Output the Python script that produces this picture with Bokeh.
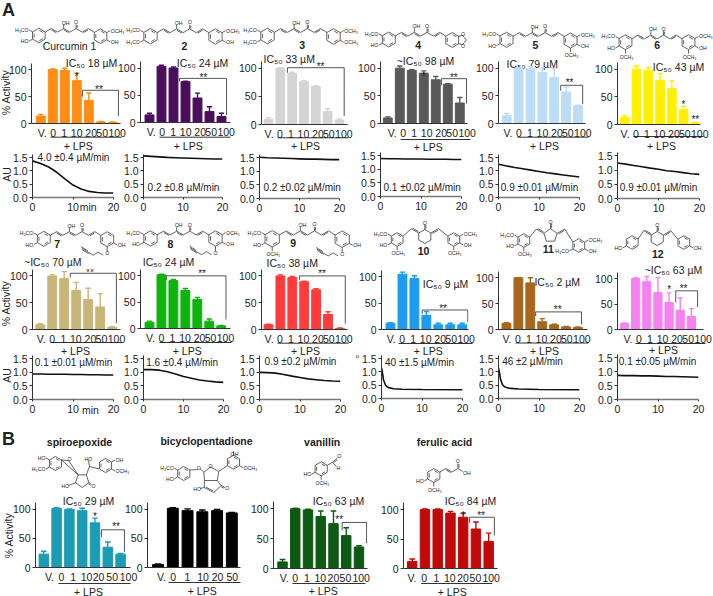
import math
from bokeh.plotting import figure
from bokeh.models import Range1d, FixedTicker, ColumnDataSource
from bokeh.embed import file_html
from bokeh.resources import INLINE
from bokeh.core.properties import value

FONT = "Liberation Sans"
INK = "#222222"
LABELS7 = ["V.", "0", "1", "10", "20", "50", "100"]
LABELS6 = ["V.", "0", "1", "10", "20", "50"]

# ---------- % activity values ----------
curcumin_val = [14, 101, 99, 80, 43, 3, 2];        curcumin_err = [3, 1, 4, 14, 14, 1, 1]
c2_val = [14, 103, 100, 75, 45, 20, 11];           c2_err = [3, 2, 2, 1, 9, 9, 6]
c3_val = [9, 100, 91, 76, 68, 23, 8];              c3_err = [3, 1, 2, 2, 1, 5, 2]
c4_val = [10, 100, 96, 91, 79, 71, 37];            c4_err = [2, 4, 1, 4, 6, 1, 10]
c5_val = [14, 100, 99, 92, 83, 57, 32];            c5_err = [4, 1, 4, 9, 16, 9, 1]
c6_val = [13, 100, 98, 80, 65, 27, 3];             c6_err = [3, 6, 5, 12, 14, 6, 1]
c7_val = [9, 100, 95, 73, 56, 42, 4];              c7_err = [2, 2, 13, 15, 21, 25, 1]
c8_val = [12, 102, 91, 72, 55, 14, 5];             c8_err = [2, 1, 2, 4, 4, 4, 1]
c9_val = [9, 100, 97, 89, 74, 28, 2];              c9_err = [1, 2, 2, 1, 2, 5, 1]
c10_val = [12, 105, 97, 27, 9, 9, 9];              c10_err = [1, 4, 5, 7, 3, 3, 3]
c11_val = [12, 100, 90, 15, 9, 5, 4];              c11_err = [1, 0, 10, 6, 1, 1, 1]
c12_val = [12, 100, 94, 73, 53, 38, 26];           c12_err = [1, 2, 10, 29, 19, 24, 15]
spiro_val = [23, 102, 100, 98, 77, 35, 23];        spiro_err = [5, 1, 1, 4, 8, 9, 1]
bicyclo_val = [5, 102, 98, 96, 98, 94];            bicyclo_err = [1, 1, 3, 3, 2, 1]
vanillin_val = [11, 100, 98, 87, 75, 55, 36];      vanillin_err = [4, 1, 1, 9, 21, 13, 2]
ferulic_val = [12, 100, 100, 94, 87, 67, 46];      ferulic_err = [4, 1, 1, 3, 7, 12, 14]

# ---------- absorbance traces ----------
t_min = [0, 2, 4, 6, 8, 10, 12, 14, 16, 18, 20]
t_fast = [0, 0.2, 0.5, 1, 1.5, 2, 3, 5, 10, 20]
au1 = [1.38, 1.28, 1.15, 0.95, 0.70, 0.47, 0.32, 0.23, 0.19, 0.17, 0.17]
au2 = [1.57, 1.55, 1.53, 1.51, 1.50, 1.49, 1.48, 1.47, 1.46, 1.45, 1.45]
au3 = [1.52, 1.50, 1.49, 1.48, 1.47, 1.46, 1.45, 1.45, 1.44, 1.43, 1.43]
au4 = [1.40, 1.39, 1.39, 1.38, 1.38, 1.38, 1.37, 1.37, 1.37, 1.36, 1.36]
au5 = [1.25, 1.19, 1.13, 1.08, 1.03, 0.98, 0.93, 0.89, 0.85, 0.81, 0.77]
au6 = [1.25, 1.21, 1.16, 1.12, 1.07, 1.03, 0.98, 0.95, 0.91, 0.87, 0.85]
au7 = [0.94, 0.94, 0.93, 0.93, 0.93, 0.92, 0.92, 0.91, 0.91, 0.90, 0.90]
au8 = [1.10, 1.10, 1.08, 1.02, 0.94, 0.85, 0.78, 0.72, 0.68, 0.65, 0.63]
au9 = [1.00, 0.99, 0.97, 0.92, 0.86, 0.81, 0.76, 0.73, 0.70, 0.68, 0.67]
au10 = [1.15, 1.00, 0.70, 0.50, 0.43, 0.40, 0.37, 0.35, 0.34, 0.33]
au11 = [1.15, 1.00, 0.72, 0.52, 0.44, 0.41, 0.38, 0.36, 0.34, 0.33]
au12 = [0.87, 0.86, 0.86, 0.85, 0.85, 0.84, 0.83, 0.83, 0.82, 0.81, 0.80]

W, H = 713, 596
BL, BR, BT, BB = 32, 10, 3, 22

def place(fig, left, top):
    fig.styles = {"position": "absolute", "left": f"{left:.1f}px", "top": f"{top:.1f}px"}

def base_fig(x0, x1, ytop, y0, xr, yr):
    wf, hf = round(x1 - x0), round(y0 - ytop)
    f = figure(width=BL + wf + BR, height=BT + hf + BB, x_range=Range1d(*xr), y_range=Range1d(*yr),
               toolbar_location=None, output_backend="svg",
               min_border_left=BL, min_border_right=BR, min_border_top=BT, min_border_bottom=BB,
               background_fill_color=None, border_fill_color=None, outline_line_color=None)
    f.grid.visible = False
    for ax in (f.xaxis[0], f.yaxis[0]):
        ax.major_label_text_font = FONT
        ax.major_label_text_font_size = "10.5px"
        ax.major_label_text_color = INK
        ax.axis_line_color = "#333333"
        ax.major_tick_line_color = "#333333"
        ax.minor_tick_line_color = None
        ax.major_tick_in = 0
    f.yaxis[0].major_tick_out = 3
    f.yaxis[0].major_label_standoff = 2
    place(f, x0 - BL, ytop - BT)
    return f

def bar_panel(vals, errs, labels, color, x0, x1, y100, y0, xb0, dx, label_px, bracket=None, stars=()):
    ppu = (y0 - y100) / 100
    top = 112
    f = base_fig(x0, x1, y0 - top * ppu, y0,
                 ((x0 - xb0) / dx, (x1 - xb0) / dx), (0, top))
    xs = list(range(len(vals)))
    f.vbar(x=xs, top=vals, width=0.74, color=color)
    hi = [v + e for v, e in zip(vals, errs)]
    f.segment(x0=xs, y0=vals, x1=xs, y1=hi, line_color=color, line_width=1.4)
    f.segment(x0=[x - 0.22 for x in xs], y0=hi, x1=[x + 0.22 for x in xs], y1=hi, line_color=color, line_width=1.4)
    tick_pos = [(px - xb0) / dx for px in label_px]
    f.xaxis[0].ticker = FixedTicker(ticks=tick_pos)
    f.xaxis[0].major_label_overrides = {t: l for t, l in zip(tick_pos, labels)}
    f.xaxis[0].major_tick_out = 0
    f.xaxis[0].major_label_standoff = 3
    f.yaxis[0].ticker = FixedTicker(ticks=[0, 50, 100])
    if bracket:
        xl, xr, yt, yl, yr = bracket
        f.line([xl, xl, xr, xr], [yl, yt, yt, yr], line_color="#555555", line_width=1)
    if stars:
        f.text(x=[s[0] for s in stars], y=[s[1] for s in stars], text=[s[2] for s in stars],
               text_font=value(FONT), text_font_size="10px", text_color=INK,
               text_align="center", text_baseline="middle", y_offset=2)
    return f

def line_panel(t, au, x0, x20, y15, y0):
    ppu = (y0 - y15) / 1.5
    top = 1.62
    f = base_fig(x0, x20, y0 - top * ppu, y0, (0, 20), (0, top))
    f.line(t, au, line_color="#111111", line_width=1.6)
    f.xaxis[0].ticker = FixedTicker(ticks=[0, 10, 20])
    f.xaxis[0].major_tick_out = 2
    f.xaxis[0].major_label_standoff = 3
    f.xaxis[0].axis_line_color = "#777777"
    f.xaxis[0].axis_line_width = 1.5
    f.yaxis[0].ticker = FixedTicker(ticks=[0, 0.5, 1, 1.5])
    f.yaxis[0].major_label_overrides = {0: "0.0", 0.5: "0.5", 1: "1.0", 1.5: "1.5"}
    return f

def off(base, offs):
    return [base + o for o in offs]

PAT = [0, 11, 22, 34.5, 49, 60, 75]
panels = [
    bar_panel(curcumin_val, curcumin_err, LABELS7, "#FF8C14", 31, 120, 69, 122.7, 40.3, 12, off(41.7, PAT),
              (3.47, 6.47, 62, 50, 14), [(4.85, 68, "**"), (3, 92, "*")]),
    bar_panel(c2_val, c2_err, LABELS7, "#4A0E5C", 140, 230, 68, 122.7, 149, 12, off(150.7, PAT),
              (2.5, 6.42, 81, 75, 14), [(4.5, 87, "**")]),
    bar_panel(c3_val, c3_err, LABELS7, "#D4D4D4", 260.7, 347, 67.3, 123.3, 267.7, 11.87, off(268.3, PAT),
              (1.6, 6.4, 101, 92, 15), [(4.4, 106, "**")]),
    bar_panel(c4_val, c4_err, LABELS7, "#595959", 380, 467, 67.7, 123.3, 387.3, 12, off(391.7, PAT),
              (4.47, 6.56, 81, 69, 36), [(5.5, 87, "**"), (3, 88, "*")]),
    bar_panel(c5_val, c5_err, LABELS7, "#BDDCF6", 497.7, 585, 67.3, 122.7, 506, 11.9, off(507.3, PAT),
              (4.55, 6.4, 69, 59, 35), [(5.3, 77, "**")]),
    bar_panel(c6_val, c6_err, LABELS7, "#FFF000", 616.7, 700, 68.3, 123.3, 624, 11.8, off(624.3, PAT),
              None, [(5, 39, "*"), (6, 12, "**")]),
    bar_panel(c7_val, c7_err, LABELS7, "#C8B578", 32.3, 120, 275, 328.3, 40, 11.95, off(41, PAT),
              (2.5, 6.35, 105, 97, 12), [(4.15, 110, "**")]),
    bar_panel(c8_val, c8_err, LABELS7, "#0CB40C", 140, 230, 275.7, 328.3, 149, 11.95, off(150, PAT),
              (1.4, 6.4, 100, 92, 17), [(4.4, 109, "**")]),
    bar_panel(c9_val, c9_err, LABELS7, "#FF3B3B", 260.7, 347, 275.7, 329, 267.7, 11.95, off(268.3, PAT),
              (2.6, 6.45, 100, 92, 11), [(4.5, 109, "**")]),
    bar_panel(c10_val, c10_err, LABELS7, "#1E9BF0", 381, 468, 276.7, 329, 390, 11.95, off(390.7, PAT),
              (2.65, 6.47, 37, 30, 14), [(4.4, 44, "**")]),
    bar_panel(c11_val, c11_err, LABELS7, "#A8651E", 497.7, 587, 276.7, 328.7, 505.7, 11.95, off(506.3, PAT),
              (2.45, 6.3, 34, 26, 10), [(4.3, 42, "**")]),
    bar_panel(c12_val, c12_err, LABELS7, "#F582F0", 617.3, 703, 277.7, 329, 624.3, 11.1, off(627.7, PAT),
              (4.6, 6.56, 76, 53, 44), [(5.3, 84, "**"), (4, 83, "*")]),
    bar_panel(spiro_val, spiro_err, LABELS7, "#1A9CB4", 35, 130, 509, 567.3, 43.3, 12.8,
              off(49, [0, 12, 23.7, 37, 49, 62.7, 79]),
              (4.5, 6.3, 65, 52, 27), [(5.65, 74, "**"), (4, 91, "*")]),
    bar_panel(bicyclo_val, bicyclo_err, LABELS6, "#000000", 146.7, 240, 509, 566.7, 157.3, 14.8,
              off(160.7, [0, 11.7, 26, 41.7, 56.3, 71])),
    bar_panel(vanillin_val, vanillin_err, LABELS7, "#0E5A14", 273.3, 367, 508.3, 568.3, 282.3, 12.7,
              off(284, [0, 11, 22.7, 36, 49, 61, 76.7]),
              (4.68, 6.6, 77, 64, 42), [(4.45, 85, "**")]),
    bar_panel(ferulic_val, ferulic_err, LABELS7, "#C00A0A", 403.3, 497, 509, 567.7, 412, 12.7,
              off(411.7, [0, 12.3, 24.3, 37.7, 51, 63.3, 79]),
              (4.5, 6.45, 87, 78, 56), [(5.4, 93, "**"), (4, 93, "*")]),
    line_panel(t_min, au1, 31.7, 112.7, 156.7, 196.7),
    line_panel(t_min, au2, 142.7, 221.7, 156.7, 196.7),
    line_panel(t_min, au3, 259.3, 339.3, 156.7, 197.3),
    line_panel(t_min, au4, 380, 461, 155.7, 196.7),
    line_panel(t_min, au5, 497.7, 579, 156.7, 196.7),
    line_panel(t_min, au6, 616.7, 698.3, 155, 197.3),
    line_panel(t_min, au7, 32.3, 113.3, 357.7, 398.3),
    line_panel(t_min, au8, 142.7, 222.7, 357.7, 398.3),
    line_panel(t_min, au9, 259.3, 340, 357.7, 398.3),
    line_panel(t_fast, au10, 381, 461.7, 357.7, 397.3),
    line_panel(t_fast, au11, 497.7, 578.3, 357.7, 397.3),
    line_panel(t_min, au12, 617.3, 698.3, 357.7, 399),
]

# ---------- page layer: text, underlines, structures ----------
bg = figure(width=W, height=H, x_range=Range1d(0, W), y_range=Range1d(H, 0),
            toolbar_location=None, output_backend="svg",
            min_border_left=0, min_border_right=0, min_border_top=0, min_border_bottom=0,
            background_fill_color=None, border_fill_color=None, outline_line_color=None)
bg.xaxis.visible = False
bg.yaxis.visible = False
bg.grid.visible = False
place(bg, 0, 0)

T = {k: [] for k in ("x", "y", "t", "s", "st", "a", "al")}
def txt(x, y, t, s=10.5, st="normal", a=0.0, al="center"):
    for k, v in zip(("x", "y", "t", "s", "st", "a", "al"), (x, y, t, f"{s}px", st, a, al)):
        T[k].append(v)

SUB = "\u2085\u2080"
for x, y, t in [(91, 62.7, "IC50 18 µM"), (202, 62.7, "IC50 24 µM"), (288.7, 58.7, "IC50 33 µM"),
                (425, 60, "~IC50 98 µM"), (531.7, 63, "IC50 79 µM"), (678, 66.7, "IC50 43 µM"),
                (52.3, 261.7, "~IC50 70 µM"), (168, 261.7, "IC50 24 µM"), (291.7, 262, "IC50 38 µM"),
                (445, 283, "IC50 9 µM"), (556.7, 281, "IC50 2 µM"), (673, 269.3, "~IC50 63 µM"),
                (88, 500.7, "IC50 29 µM"), (338, 500.7, "IC50 63 µM"), (470, 500.7, "IC50 84 µM")]:
    txt(x, y, t.replace("IC50", "IC" + SUB))
for x, y, t in [(73, 156.7, "4.0 ±0.4 µM/min"), (183, 187, "0.2 ±0.8 µM/min"), (303, 187, "0.2  ±0.02 µM/min"),
                (421.7, 187, "0.1 ±0.02 µM/min"), (539, 187, "0.9 ±0.01 µM/min"), (658, 187, "0.9 ±0.01 µM/min"),
                (73, 362, "0.1 ±0.01 µM/min"), (181.7, 362.3, "1.6 ±0.4 µM/min"), (300, 361, "0.9 ±0.2 µM/min"),
                (419, 361.7, "40 ±1.5 µM/min"), (532, 361.3, "46 ±2 µM/min"), (657, 361, "0.1 ±0.05 µM/min")]:
    txt(x, y, t, s=10)
under = [(50, 121, 136.7, 77.7, 145.7), (159, 230, 136.7, 187.7, 145.7), (277, 348, 137.3, 305, 145.7),
         (400, 470, 139, 427.7, 146), (517, 588, 136.7, 544, 145.3), (633, 703, 136, 661, 145.7),
         (50, 121, 342, 75, 350), (159, 231, 342, 186.7, 350), (277, 348, 342.7, 305, 350.7),
         (398, 472, 343, 427.7, 350), (515, 588, 342.5, 544, 350), (635, 705, 343, 663, 349.3),
         (58, 130, 583, 88, 591), (168, 240, 582, 201.7, 590), (292, 365, 583, 322.7, 590.7),
         (420.7, 491.7, 583, 451.7, 591)]
bg.segment(x0=[u[0] for u in under], y0=[u[2] for u in under], x1=[u[1] for u in under], y1=[u[2] for u in under],
           line_color="#333333", line_width=1)
for u in under:
    txt(u[3], u[4], "+ LPS")
for x, y in [(5, 92), (5, 303), (8, 535)]:
    txt(x, y, "% Activity", a=math.pi / 2)
for x, y in [(6, 174), (6, 375)]:
    txt(x, y, "AU", a=math.pi / 2)
txt(87.7, 206.7, "min"); txt(90, 409, "min"); txt(357, 355, "o", s=6)
txt(8, 9, "A", s=18, st="bold"); txt(8, 438, "B", s=18, st="bold")
for x, y, t in [(79, 441.7, "spiroepoxide"), (206, 440, "bicyclopentadione"), (321.7, 441.5, "vanillin"), (444, 441, "ferulic acid")]:
    txt(x, y, t, st="bold")
txt(69, 45.7, "Curcumin 1")
for x, y, t in [(184, 45, "2"), (301.7, 44.7, "3"), (417.7, 44, "4"), (535, 44.7, "5"), (656.7, 44.5, "6"),
                (56.7, 243, "7"), (170, 243, "8"), (292.7, 242, "9"), (423, 250.7, "10"), (547.7, 248, "11"), (657.3, 253, "12")]:
    txt(x, y, t, st="bold")

# structure drawing helpers
BX, BY = [], []
def bond(a, b):
    BX.append([a[0], b[0]]); BY.append([a[1], b[1]])
def dbl(a, b, o=1.1):
    bond(a, b)
    dx, dy = b[0] - a[0], b[1] - a[1]
    n = math.hypot(dx, dy) or 1
    nx, ny = -dy / n * o, dx / n * o
    bond((a[0] + nx + dx * .12, a[1] + ny + dy * .12), (b[0] + nx - dx * .12, b[1] + ny - dy * .12))
def slab(x, y, t, al="center"):
    txt(x, y, t, s=5.2, al=al)
H3CO, OCH3 = "H\u2083CO", "OCH\u2083"
def hexv(c, r=7.3):
    return [(c[0] + r * math.sin(i * math.pi / 3), c[1] - r * math.cos(i * math.pi / 3)) for i in range(6)]
def ring(c, r=7.3, subs=None, arom=True):
    v = hexv(c, r)
    for i in range(6):
        a, b = v[i], v[(i + 1) % 6]
        bond(a, b)
        if arom and i % 2 == 0:
            f = 0.75
            bond((c[0] + (a[0] - c[0]) * f + (b[0] - a[0]) * .1, c[1] + (a[1] - c[1]) * f + (b[1] - a[1]) * .1),
                 (c[0] + (b[0] - c[0]) * f - (b[0] - a[0]) * .1, c[1] + (b[1] - c[1]) * f - (b[1] - a[1]) * .1))
    for i, t in (subs or {}).items():
        ux, uy = (v[i][0] - c[0]) / r, (v[i][1] - c[1]) / r
        e = (v[i][0] + ux * 4, v[i][1] + uy * 4)
        bond(v[i], e)
        if i in (4, 5):
            slab(e[0] - .5, e[1], t, "right")
        elif i in (1, 2):
            slab(e[0] + .5, e[1], t, "left")
        else:
            slab(e[0] + 1, e[1] + 3, t)
    return v
def alkyne(v):
    o = (v[0], v[1] + 5)
    bond(v, o); slab(o[0], o[1] + 1.5, "O")
    pts = [(-4, 2), (-9, -1), (-14, 2), (-19, -1), (-25.5, -5)]
    pts = [(o[0] + p[0], o[1] + 1.5 + p[1]) for p in pts]
    for a, b in zip(pts, pts[1:]):
        bond(a, b)
    bond((pts[3][0] - .5, pts[3][1] - 1.5), (pts[4][0] - .5, pts[4][1] - 1.5))
    bond((pts[3][0] + .5, pts[3][1] + 1.5), (pts[4][0] + .5, pts[4][1] + 1.5))
def curc(L, R, ls, rs, tail=False):
    s = (R[0] - L[0]) / 62
    mx, my = (L[0] + R[0]) / 2 - s, L[1] - 7 * s
    F = lambda p: (mx + s * p[0], my + s * p[1])
    n = [F(p) for p in [(-23.7, 3.6), (-17.5, 0), (-11.3, 3.6), (-5, 0), (1.2, 3.6), (7.4, 0), (13.6, 3.6), (19.8, 0), (25.7, 3.6)]]
    for i in range(8):
        (dbl if i in (1, 3, 6) else bond)(n[i], n[i + 1])
    bond(n[3], (n[3][0], n[3][1] - 4)); slab(n[3][0] + 2, n[3][1] - 6, "OH")
    dbl(n[5], (n[5][0], n[5][1] - 4)); slab(n[5][0], n[5][1] - 6.5, "O")
    ring(F((-30, 7)), 7.3 * s, ls)
    v = ring((F((32, 7))[0], R[1]), 7.3 * s, rs)
    if tail:
        alkyne(v[3])

curc((38.3, 35), (100, 35.7), {5: H3CO, 4: "HO"}, {1: OCH3, 2: "OH"})
curc((150, 35.7), (215, 36), {5: H3CO, 4: H3CO}, {1: OCH3, 2: "OH"})
curc((267, 35.5), (333, 36), {5: H3CO, 4: H3CO}, {1: OCH3, 2: OCH3})
curc((388.3, 39), (451.7, 39.5), {5: H3CO, 4: "HO"}, {})
c4r = hexv((451.7, 39.5), 7.3)
d1, d2 = (c4r[1][0] + 4, c4r[1][1] - 1), (c4r[2][0] + 4, c4r[2][1] + 1)
bond(c4r[1], d1); bond(c4r[2], d2); bond(d1, (d1[0] + 4, (d1[1] + d2[1]) / 2)); bond(d2, (d1[0] + 4, (d1[1] + d2[1]) / 2))
slab(d1[0] + 0.5, d1[1] - 1.5, "O"); slab(d2[0] + 0.5, d2[1] + 1.5, "O")
curc((506, 39.3), (570, 40), {5: H3CO, 4: "HO"}, {1: OCH3, 2: "OH", 3: OCH3})
curc((625, 41.7), (688, 41.7), {5: H3CO, 4: "HO", 3: OCH3}, {1: OCH3, 2: "OH", 3: OCH3})
curc((43.3, 238.3), (106.7, 238.7), {5: H3CO, 4: "HO"}, {2: "OH"}, True)
curc((150, 238), (215, 238), {5: H3CO, 4: "HO"}, {1: OCH3, 2: "OH"}, True)
curc((271.7, 238.3), (341.7, 238.7), {5: H3CO, 4: "HO", 3: OCH3}, {2: "OH"}, True)

def central(ringv, top, L, R, ls, rs, lr=6.8):
    for a, b in zip(ringv, ringv[1:] + ringv[:1]):
        bond(a, b)
    dbl(ringv[top], (ringv[top][0], ringv[top][1] - 5)); slab(ringv[top][0], ringv[top][1] - 7, "O")
    vl, vr = ringv[(top - 1) % len(ringv)], ringv[(top + 1) % len(ringv)]
    lv, rv = ring(L, lr, ls), ring(R, lr, rs)
    cl = (vl[0] - 7.5, vl[1] - 4.3); cr = (vr[0] + 7.5, vr[1] - 4.3)
    dbl(vl, cl); bond(cl, lv[1]); dbl(vr, cr); bond(cr, rv[5])
central(hexv((424.3, 236), 7), 0, (396.7, 239), (453.3, 239), {5: H3CO, 4: "HO", 3: OCH3}, {1: OCH3, 2: "OH", 3: OCH3})
pent = [(550 + 7 * math.sin(i * 2 * math.pi / 5), 235 - 7 * math.cos(i * 2 * math.pi / 5)) for i in range(5)]
central(pent, 0, (523.3, 240), (578.3, 245), {5: H3CO, 4: "HO", 3: OCH3}, {1: OCH3, 2: "OH", 4: H3CO})
central(hexv((656.7, 238), 7), 0, (631.7, 242), (683.3, 242), {4: "HO"}, {2: "OH"})

# spiroepoxide
v1 = ring((55, 463), 7, {4: H3CO, 5: "HO"})
v2 = ring((105, 465), 7, {1: "OH", 2: OCH3})
p = [(81.7 + 7 * math.sin(i * 2 * math.pi / 5), 480 + 7 * math.cos(i * 2 * math.pi / 5)) for i in range(5)]
for a, b in zip(p, p[1:] + p[:1]):
    bond(a, b)
bond(p[3], v1[1]); bond(v1[1], (68, 460)); bond((68, 460), p[3]); slab(69, 458, "O")
ch = (89, 466); bond(p[2], ch); bond(ch, v2[4]); bond(ch, (88, 460)); slab(88, 458, "HO")
bond(p[4], (68, 485)); slab(65, 485, "HO"); dbl(p[1], (91, 484)); slab(93, 485, "O")
# bicyclopentadione
v1 = ring((183.3, 473), 7, {5: H3CO, 4: "HO"})
v2 = ring((233, 461.7), 7, {0: "OH", 2: OCH3})
fa, fb, fc, fd, fe = (203.3, 471.7), (210, 466.5), (218.3, 471), (216.7, 480), (204, 480)
for s_, e_ in [(fa, fb), (fb, fc), (fc, fd), (fd, fe), (fe, fa), (v1[1], (197, 469)), ((199.5, 468), fa), (fc, v2[4])]:
    bond(s_, e_)
slab(210, 465, "O"); slab(198.3, 467.3, "O")
fg, fh, fi = (220.7, 485), (213.3, 492), (203.7, 487)
bond(fd, fg); bond(fg, fh); dbl(fh, fi); bond(fi, fe)
dbl(fg, (224.5, 487)); slab(226.7, 487.7, "O"); bond(fi, (199.5, 488)); slab(196.7, 488.5, "HO")
# vanillin
v = ring((320.7, 468.3), 7, {4: "HO", 3: OCH3})
cho = (v[1][0] + 5, v[1][1] - 3); bond(v[1], cho); dbl(cho, (cho[0] + 5, cho[1] - 4)); slab(cho[0] + 7, cho[1] - 6, "O")
bond(cho, (cho[0] + 4, cho[1] + 4)); slab(cho[0] + 6, cho[1] + 6, "H")
# ferulic acid
v = ring((433.3, 475), 7, {4: "HO", 3: OCH3})
a = v[1]; b = (a[0] + 6, a[1] - 3.5); c_ = (b[0] + 6, b[1] + 3.5); d = (c_[0] + 6, c_[1] - 3.5)
bond(a, b); dbl(b, c_); bond(c_, d); dbl(d, (d[0], d[1] - 5)); slab(d[0], d[1] - 7.5, "O"); bond(d, (d[0] + 5, d[1] + 3)); slab(d[0] + 9, d[1] + 4, "OH")

bg.multi_line(xs=BX, ys=BY, line_color="#222222", line_width=0.7)
src = ColumnDataSource(dict(x=T["x"], y=T["y"], t=T["t"], s=T["s"], st=T["st"], a=T["a"], al=T["al"]))
bg.text(x="x", y="y", text="t", text_font_size="s", text_font_style="st", angle="a", text_align="al",
        text_baseline="middle", text_font=value(FONT), text_color=INK, source=src)

open("out.html", "w").write(file_html([bg] + panels, INLINE))
